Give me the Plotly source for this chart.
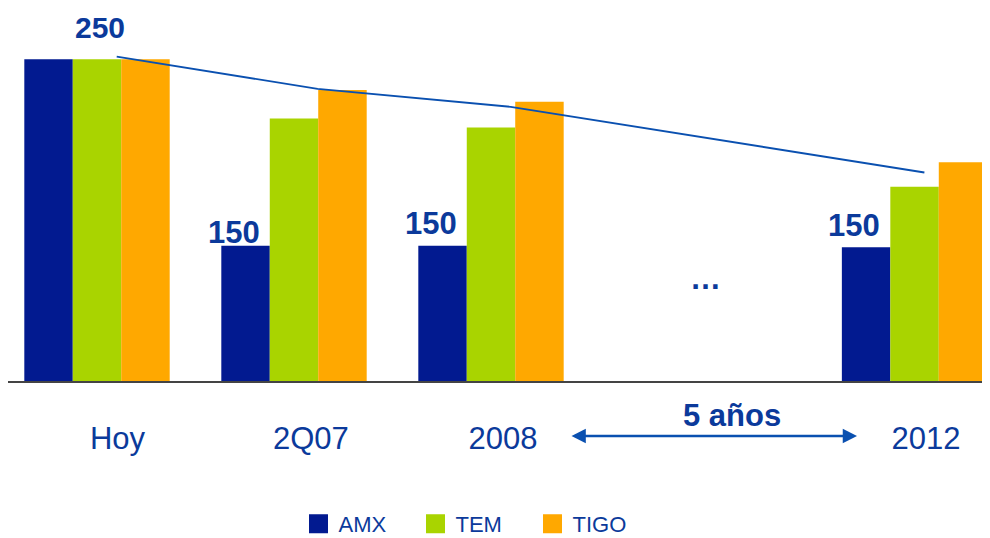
import plotly.graph_objects as go

# ---- data ----
categories = ["Hoy", "2Q07", "2008", "2012"]
amx = [250, 105, 105, 104]
tem = [250, 204, 197, 151]
tigo = [250, 226, 217, 170]
amx_labels = ["250", "150", "150", "150"]
trend = [252, 227, 213, 162]
series_names = ["AMX", "TEM", "TIGO"]
span_label = "5 años"
gap_label = "…"

# ---- layout helpers (positions / styles) ----
group_x = [0, 1, 2, 4.15]
tick_dx = [0.104, 0.086, 0.061, 0.058]
trend_dx = [0.10, 0.12, 0.10, 0.05]
label_shift = [13, -6, 3, 2]
label_size = [30, 31, 31, 31]
gap_x = 3.09
bw = 0.246
colors = ["#021A90", "#A9D400", "#FFA800"]
navy = "#0B3A9B"
line_col = "#0A50B0"
FONT = "Liberation Sans, Arial, sans-serif"

fig = go.Figure()
for i, (name, vals) in enumerate(zip(series_names, [amx, tem, tigo])):
    fig.add_trace(go.Bar(
        x=group_x, y=vals, name=name, width=bw, offset=(i - 1.5) * bw,
        marker=dict(color=colors[i], line=dict(width=0)),
        showlegend=False, hoverinfo="skip"))

# trend line
fig.add_trace(go.Scatter(
    x=[g + d for g, d in zip(group_x, trend_dx)], y=trend, mode="lines",
    line=dict(color=line_col, width=1.9), showlegend=False, hoverinfo="skip"))

# legend entries
for i, name in enumerate(series_names):
    fig.add_trace(go.Scatter(
        x=[None], y=[None], mode="markers", name=name,
        marker=dict(symbol="square", size=16, color=colors[i],
                    line=dict(color=colors[i], width=3))))

annotations = []
for k, (g, v, lab) in enumerate(zip(group_x, amx, amx_labels)):
    ax_ = g + 0.015 if k == 0 else g - bw - 0.06
    annotations.append(dict(
        x=ax_, y=v, xref="x", yref="y", text=f"<b>{lab}</b>", showarrow=False,
        yanchor="bottom", yshift=label_shift[k],
        font=dict(family=FONT, size=label_size[k], color=navy)))

annotations.append(dict(
    x=gap_x, y=80, xref="x", yref="y", text=f"<b>{gap_label}</b>", showarrow=False,
    font=dict(family=FONT, size=31, color=navy)))

# span arrow
annotations.append(dict(
    x=3.858, y=-0.1475, xref="x", yref="paper", ax=2.401, ay=0,
    axref="x", ayref="pixel", text="", showarrow=True,
    arrowhead=2, startarrowhead=2, arrowside="end+start",
    arrowsize=1.1, startarrowsize=1.1, arrowwidth=2.6, arrowcolor=line_col))
annotations.append(dict(
    x=3.223, y=-0.0912, xref="x", yref="paper", text=f"<b>{span_label}</b>",
    showarrow=False, yanchor="middle", xanchor="center",
    font=dict(family=FONT, size=31, color=navy)))

fig.update_layout(
    width=982, height=530, autosize=False,
    margin=dict(l=0, r=0, t=0, b=157),
    paper_bgcolor="white", plot_bgcolor="white",
    barmode="overlay",
    font=dict(family=FONT, color=navy),
    xaxis=dict(range=[-0.4518, 4.533], showgrid=False, zeroline=False,
               showline=True, linecolor="#444444", linewidth=1.5,
               tickvals=[g + d for g, d in zip(group_x, tick_dx)], ticktext=categories,
               ticks="", ticklabelstandoff=29,
               tickfont=dict(family=FONT, size=31, color=navy)),
    yaxis=dict(range=[0, 289.8], visible=False),
    legend=dict(orientation="h", x=0.2958, xanchor="left",
                yref="container", y=1 - 516 / 530, yanchor="middle",
                font=dict(family=FONT, size=22, color=navy),
                entrywidth=72, entrywidthmode="pixels",
                bgcolor="rgba(0,0,0,0)"),
    annotations=annotations,
)

fig.write_html("out.html")
